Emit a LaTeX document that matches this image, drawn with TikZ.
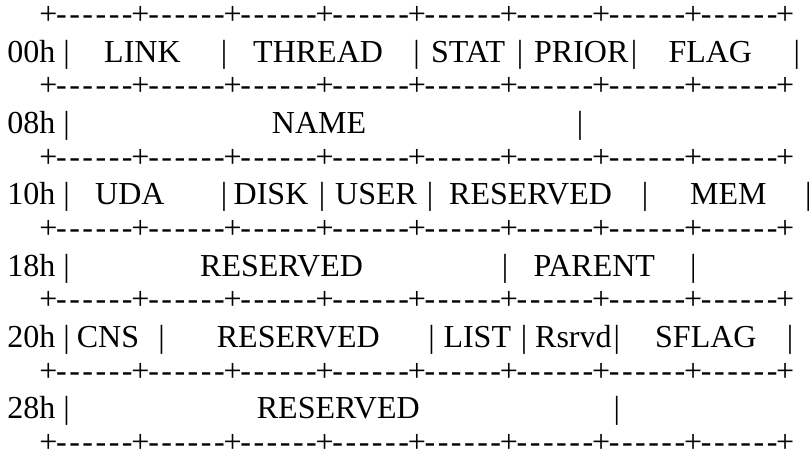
\documentclass[tikz,border=0pt]{standalone}
\usepackage{fontspec}
\setmainfont{Liberation Serif}

\tikzset{
  field/.style={anchor=base west, inner sep=0pt, font=\fontsize{32}{37}\selectfont},
  sepbar/.style={anchor=base, inner sep=0pt, font=\fontsize{32}{37}\selectfont},
}

\begin{document}
\begin{tikzpicture}[x=1pt, y=-1pt]
  \useasboundingbox (0,0) rectangle (812,459);

  % Border rows
  \foreach \r in {0,...,6} {
    \foreach \i in {0,...,56} {
      \pgfmathtruncatemacro{\m}{mod(\i,7)}
      \node[sepbar] (rule-\r-\i) at ({48.3+13.16*\i},{24.5+71.33*\r}) {\ifnum\m=0 +\else -\fi};
    }
  }

  % 00h
  \node[field] (off0) at (7.3,62.2) {00h};
  \foreach \x [count=\k] in {66.7,224,416.7,520,634,796.7}
    \node[sepbar] (bar0-\k) at (\x,62.2) {|};
  \node[field] (link) at (104,62.2) {LINK};
  \node[field] (thread) at (253,62.2) {THREAD};
  \node[field] (stat) at (431,62.2) {STAT};
  \node[field] (prior) at (534,62.2) {PRIOR};
  \node[field] (flag) at (668.3,62.2) {FLAG};

  % 08h
  \node[field] (off1) at (7.3,133.5) {08h};
  \foreach \x [count=\k] in {66.7,580}
    \node[sepbar] (bar1-\k) at (\x,133.5) {|};
  \node[field] (name) at (271.7,133.5) {NAME};

  % 10h
  \node[field] (off2) at (7.3,204.8) {10h};
  \foreach \x [count=\k] in {66.7,224,322,430,645,808.3}
    \node[sepbar] (bar2-\k) at (\x,204.8) {|};
  \node[field] (uda) at (95,204.8) {UDA};
  \node[field] (disk) at (233.5,204.8) {DISK};
  \node[field] (user) at (335,204.8) {USER};
  \node[field] (rsv1) at (449,204.8) {RESERVED};
  \node[field] (mem) at (690,204.8) {MEM};

  % 18h
  \node[field] (off3) at (7.3,276.2) {18h};
  \foreach \x [count=\k] in {66.7,505,693.3}
    \node[sepbar] (bar3-\k) at (\x,276.2) {|};
  \node[field] (rsv2) at (200,276.2) {RESERVED};
  \node[field] (parent) at (533.3,276.2) {PARENT};

  % 20h
  \node[field] (off4) at (7.3,347.5) {20h};
  \foreach \x [count=\k] in {66.7,161.7,431.7,524,616.7,790}
    \node[sepbar] (bar4-\k) at (\x,347.5) {|};
  \node[field] (cns) at (76.7,347.5) {CNS};
  \node[field] (rsv3) at (216.7,347.5) {RESERVED};
  \node[field] (list) at (443.3,347.5) {LIST};
  \node[field] (rsrvd) at (535,347.5) {Rsrvd};
  \node[field] (sflag) at (655,347.5) {SFLAG};

  % 28h
  \node[field] (off5) at (7.3,418.8) {28h};
  \foreach \x [count=\k] in {66.7,616.7}
    \node[sepbar] (bar5-\k) at (\x,418.8) {|};
  \node[field] (rsv4) at (256.7,418.8) {RESERVED};
\end{tikzpicture}
\end{document}
